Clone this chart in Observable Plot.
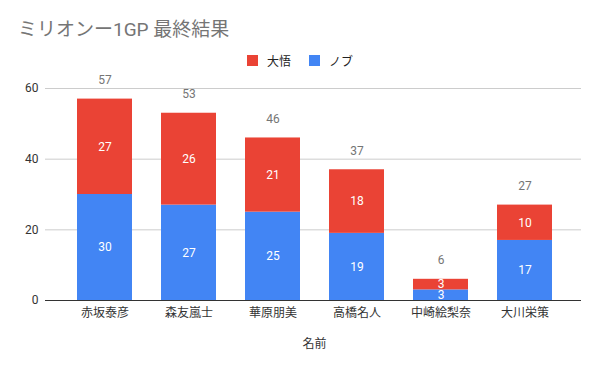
<!DOCTYPE html>
<html><head><meta charset="utf-8">
<script src="https://cdn.jsdelivr.net/npm/d3@7"></script>
<script src="https://cdn.jsdelivr.net/npm/@observablehq/plot@0.6"></script>
<style>
body{margin:0;background:#fff;font-family:Roboto,"Noto Sans CJK JP",sans-serif;}
#wrap{width:600px;height:371px;overflow:hidden;}
#title{height:48px;box-sizing:border-box;padding:18px 0 0 18px;font-size:19px;line-height:24px;color:#757575;}
#legend{height:25px;display:flex;justify-content:center;align-items:center;gap:18px;font-size:12px;color:#222;padding-left:0px;box-sizing:border-box;}
#legend .it{display:flex;align-items:center;gap:9px;}
#legend .sw{width:11px;height:11px;display:inline-block;}
</style></head>
<body><div id="wrap"><div id="title"></div><div id="legend"></div><div id="chart"></div></div>
<script>
const titleText = "ミリオンー1GP 最終結果";
const names = ["赤坂泰彦","森友嵐士","華原朋美","高橋名人","中崎絵梨奈","大川栄策"];
const nobu = [30,27,25,19,3,17];
const daigo = [27,26,21,18,3,10];
const totals = [57,53,46,37,6,27];
const seriesNames = ["大悟","ノブ"];
const seriesColors = ["#ea4335","#4285f4"];
const yTicks = [0,20,40,60];
const xLabel = "名前";

document.getElementById("title").textContent = titleText;
const lg = document.getElementById("legend");
seriesNames.forEach((s,i)=>{
  const it=document.createElement("div");it.className="it";
  const sw=document.createElement("span");sw.className="sw";sw.style.background=seriesColors[i];
  const t=document.createElement("span");t.textContent=s;
  it.appendChild(sw);it.appendChild(t);lg.appendChild(it);
});

const data = names.flatMap((n,i)=>[
  {name:n, series:"ノブ", value:nobu[i]},
  {name:n, series:"大悟", value:daigo[i]}
]);
const totalData = names.map((n,i)=>({name:n, total:totals[i]}));
const order = ["ノブ","大悟"];

const chart = Plot.plot({
  width:600, height:298,
  marginTop:15, marginBottom:71, marginLeft:47, marginRight:19,
  style:{fontFamily:'Roboto,"Noto Sans CJK JP",sans-serif', fontSize:"12px", color:"#333", background:"#fff"},
  x:{domain:names, padding:0.346, label:xLabel, labelAnchor:"center", labelOffset:47, tickSize:0, tickPadding:8},
  y:{domain:[0,60], ticks:yTicks, label:null, tickSize:0, tickPadding:9},
  color:{domain:seriesNames, range:seriesColors},
  marks:[
    Plot.ruleY(yTicks.filter(d=>d>0), {stroke:"#cccccc", insetLeft:-2}),
    Plot.barY(data, {x:"name", y:"value", fill:"series", z:"series", order}),
    Plot.ruleY([0], {stroke:"#333", insetLeft:-2}),
    Plot.text(data, Plot.stackY({x:"name", y:"value", z:"series", order, text:"value", fill:"white", fontSize:12})),
    Plot.text(totalData, {x:"name", y:"total", text:"total", dy:-19, fill:"#757575", fontSize:12})
  ]
});
document.getElementById("chart").appendChild(chart);
</script></body></html>
